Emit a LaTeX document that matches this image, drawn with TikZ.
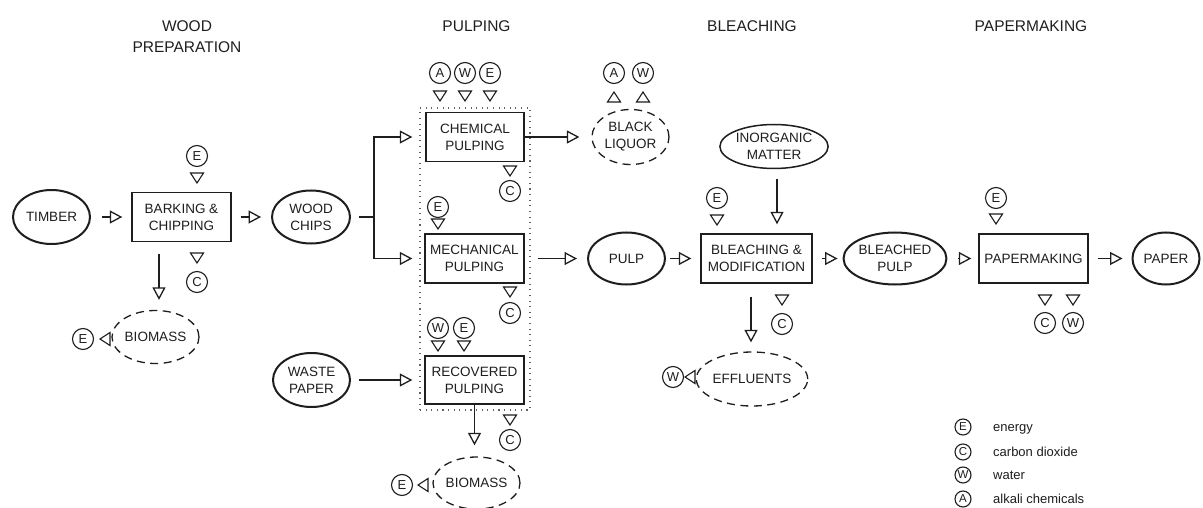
\documentclass[tikz,border=0pt]{standalone}
\usepackage{fontspec}
\setmainfont{Liberation Sans}
\usetikzlibrary{shapes.geometric,arrows.meta,calc}
\definecolor{ink}{HTML}{1E1E1E}
\newcommand\dgboxfont{\fontsize{13.5}{17}\selectfont}
\newcommand\dghdrfont{\fontsize{15.5}{21}\selectfont}
\newcommand\dgmkfont{\fontsize{13}{14}\selectfont}
\newcommand\dglegfont{\fontsize{13}{15}\selectfont}
\newcommand\dglmkfont{\fontsize{11.5}{12}\selectfont}
\tikzset{
  hdr/.style={align=center, font=\dghdrfont, text=ink, inner sep=0pt},
  box/.style={draw=ink, line width=1.4pt, align=center, font=\dgboxfont, text=ink, inner sep=0pt},
  ell/.style={ellipse, draw=ink, line width=2pt, align=center, font=\dgboxfont, text=ink, inner sep=0pt},
  dell/.style={ellipse, draw=ink, line width=1.3pt, dash pattern=on 8pt off 5.5pt, align=center, font=\dgboxfont, text=ink, inner sep=0pt},
  mk/.style={circle, draw=ink, line width=1.1pt, minimum size=21pt, inner sep=0pt, font=\dgmkfont, text=ink},
  lmk/.style={circle, draw=ink, line width=1.1pt, minimum size=16pt, inner sep=0pt, font=\dglmkfont, text=ink},
  leg/.style={anchor=base west, inner sep=0pt, font=\dglegfont, text=ink},
  line/.style={draw=ink, line width=1.3pt},
  arr/.style={draw=ink, line width=1.3pt, -{Triangle[open, length=12.5pt, width=13pt]}},
  tdown/.pic={\draw[ink, line width=1.1pt] (-6.5,-5) -- (6.5,-5) -- (0,5) -- cycle;},
  tup/.pic={\draw[ink, line width=1.1pt] (-6.5,5) -- (6.5,5) -- (0,-5) -- cycle;},
  tleft/.pic={\draw[ink, line width=1.1pt] (5,-6.5) -- (5,6.5) -- (-5,0) -- cycle;},
}
\begin{document}
\begin{tikzpicture}[x=1pt,y=-1pt]
\useasboundingbox (0,0) rectangle (1203,508);
\fill[white] (0,0) rectangle (1203,508);

% headers
\node[hdr] (hwood) at (187,37) {WOOD\\PREPARATION};
\node[hdr] (hpulp) at (476.5,26.5) {PULPING};
\node[hdr] (hbleach) at (752,26.5) {BLEACHING};
\node[hdr] (hpaper) at (1031,26.5) {PAPERMAKING};

% pulping group frame
\node[draw=ink!70, line width=1.1pt, dash pattern=on 1.1pt off 4.5pt, minimum width=110pt, minimum height=302pt, inner sep=0pt] (pgroup) at (475,259) {};

% main nodes
\node[ell, minimum width=77pt, minimum height=54pt] (timber) at (51.5,217) {TIMBER};
\node[box, minimum width=99pt, minimum height=49pt] (bark) at (181.5,217) {BARKING \&\\CHIPPING};
\node[ell, minimum width=78pt, minimum height=53pt] (chips) at (311,217) {WOOD\\CHIPS};
\node[dell, minimum width=75pt, minimum height=53pt] (bio1) at (155.5,337) {BIOMASS};

\node[box, minimum width=98pt, minimum height=49pt] (chem) at (475,137) {CHEMICAL\\PULPING};
\node[box, minimum width=99pt, minimum height=49pt] (mech) at (474.5,258.5) {MECHANICAL\\PULPING};
\node[box, minimum width=99pt, minimum height=48pt] (recov) at (474.5,380) {RECOVERED\\PULPING};
\node[ell, minimum width=77pt, minimum height=54pt] (waste) at (311.5,380) {WASTE\\PAPER};
\node[dell, minimum width=77pt, minimum height=55pt] (liquor) at (630.5,137) {BLACK\\LIQUOR};
\node[ell, minimum width=77pt, minimum height=52pt] (pulp) at (626.5,258.5) {PULP};
\node[dell, minimum width=75pt, minimum height=52pt] (bio2) at (476.5,483) {BIOMASS};

\node[ell, line width=1.5pt, minimum width=86pt, minimum height=44pt] (inorg) at (774,146.5) {INORGANIC\\MATTER};
\node[box, minimum width=111pt, minimum height=49pt] (bleach) at (756.5,258.5) {BLEACHING \&\\MODIFICATION};
\node[ell, minimum width=84pt, minimum height=52pt] (bleached) at (895,258.5) {BLEACHED\\PULP};
\node[dell, minimum width=90pt, minimum height=54pt] (effl) at (752,379) {EFFLUENTS};

\node[box, minimum width=109pt, minimum height=49pt] (paperm) at (1033.5,258.5) {PAPERMAKING};
\node[ell, minimum width=67pt, minimum height=52pt] (paper) at (1166,258.5) {PAPER};

% connectors
\draw[arr, shorten <=11pt, shorten >=9pt] (timber) -- (bark);
\draw[arr, shorten <=9pt, shorten >=10pt] (bark) -- (chips);
\draw[arr, shorten <=12pt, shorten >=10pt] ([xshift=-22.5pt]bark.south) -- ([xshift=-22.5pt]bark.south |- bio1.north);
\coordinate (br) at (374,217);
\draw[line, shorten <=8pt] (chips) -- (br);
\draw[arr, shorten >=13pt] (br) |- (chem.west);
\draw[arr, shorten >=12pt] (br) |- (mech.west);
\draw[arr, shorten >=12pt] (chem) -- (liquor);
\draw[arr, shorten <=13pt, shorten >=10pt] (mech) -- (pulp);
\draw[arr, shorten <=8pt, shorten >=12pt] (waste) -- (recov);
\draw[arr, shorten >=11pt] (recov.south) -- (recov.south |- bio2.north);
\draw[arr, shorten <=4pt, shorten >=9pt] (pulp) -- (bleach);
\draw[arr, shorten <=10pt, shorten >=9pt] ([xshift=3pt]inorg.south) -- ([xshift=3pt]inorg.south |- bleach.north);
\draw[arr, shorten <=13pt, shorten >=9pt] ([xshift=-5.5pt]bleach.south) -- ([xshift=-5.5pt]bleach.south |- effl.north);
\draw[arr, shorten <=9pt, shorten >=5pt] (bleach) -- (bleached);
\draw[arr, shorten <=11pt, shorten >=7pt] (bleached) -- (paperm);
\draw[arr, shorten <=9pt, shorten >=9pt] (paperm) -- (paper);

% markers: barking
\node[mk] (barkE) at (197,156) {E};
\pic at (197,178) {tdown};
\pic at (197,258) {tdown};
\node[mk] (barkC) at (197,282) {C};
\node[mk] (bio1E) at (83,339) {E};
\pic at (105,339) {tleft};

% chemical pulping
\node[mk] (chemA) at (440,73) {A};
\node[mk] (chemW) at (465,73) {W};
\node[mk] (chemE) at (490,73) {E};
\pic at (440,96) {tdown};
\pic at (465,96) {tdown};
\pic at (490,96) {tdown};
\pic at (510,171) {tdown};
\node[mk] (chemC) at (510,191) {C};

% black liquor
\node[mk] (liqA) at (614,73) {A};
\node[mk] (liqW) at (643,73) {W};
\pic at (614,97) {tup};
\pic at (643,97) {tup};

% mechanical
\node[mk] (mechE) at (438,207) {E};
\pic at (438,224) {tdown};
\pic at (510,292) {tdown};
\node[mk] (mechC) at (510,313) {C};

% recovered
\node[mk] (recW) at (438,328) {W};
\node[mk] (recE) at (464,328) {E};
\pic at (438,346) {tdown};
\pic at (464,346) {tdown};
\pic at (510,420) {tdown};
\node[mk] (recC) at (510,440) {C};
\node[mk] (bio2E) at (402,485) {E};
\pic at (423,485) {tleft};

% bleaching
\node[mk] (blE) at (717,198) {E};
\pic at (717,220) {tdown};
\pic at (782,300) {tdown};
\node[mk] (blC) at (782,324) {C};
\node[mk] (efW) at (673,377) {W};
\pic at (690,377) {tleft};

% papermaking
\node[mk] (pmE) at (996,198) {E};
\pic at (996,219) {tdown};
\pic at (1045,300) {tdown};
\pic at (1073,300) {tdown};
\node[mk] (pmC) at (1045,323) {C};
\node[mk] (pmW) at (1073,323) {W};

% legend
\node[lmk] (lgE) at (963,427) {E};
\node[lmk] (lgC) at (963,452) {C};
\node[lmk] (lgW) at (963,475) {W};
\node[lmk] (lgA) at (963,499) {A};
\node[leg] (lgEt) at (993,431.5) {energy};
\node[leg] (lgCt) at (993,456.5) {carbon dioxide};
\node[leg] (lgWt) at (993,479.5) {water};
\node[leg] (lgAt) at (993,503.5) {alkali chemicals};
\end{tikzpicture}
\end{document}
